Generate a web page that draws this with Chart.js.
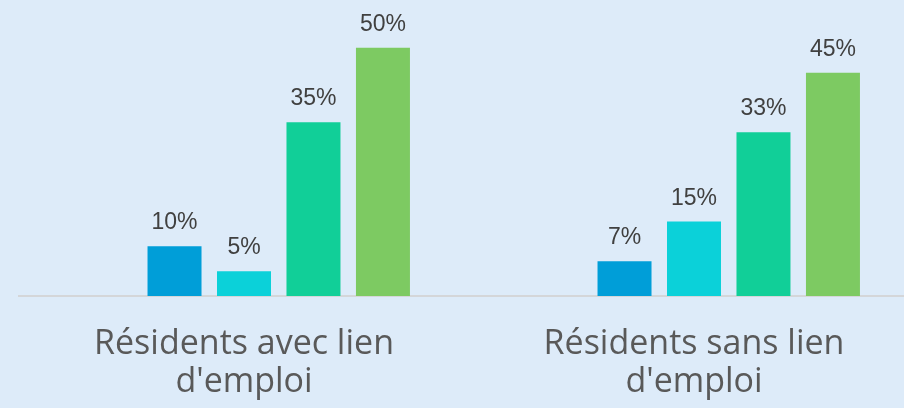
<!DOCTYPE html>
<html>
<head>
<meta charset="utf-8">
<script src="https://cdn.jsdelivr.net/npm/chart.js@4"></script>
<style>
  html, body { margin: 0; padding: 0; background: #ddebf9; }
  #wrap { width: 904px; height: 408px; overflow: hidden; }
</style>
</head>
<body>
<div id="wrap">
  <canvas id="myChart" width="919" height="408"></canvas>
</div>
<script>
const categories = [["Résidents avec lien", "d'emploi"], ["Résidents sans lien", "d'emploi"]];

// first series is empty in the source chart (it keeps its slot)
const seriesEmpty = [null, null];
const seriesA = [10, 7];
const seriesB = [5, 15];
const seriesC = [35, 33];
const seriesD = [50, 45];

const colors = ["rgba(0,0,0,0)", "#009ed8", "#0bd1d9", "#11cf98", "#7dca62"];

// value labels above bars
const valueLabels = {
  id: "valueLabels",
  afterDatasetsDraw(chart) {
    const ctx = chart.ctx;
    ctx.save();
    ctx.font = "23px 'Liberation Sans', Arial, sans-serif";
    ctx.fillStyle = "#404040";
    ctx.textAlign = "center";
    ctx.textBaseline = "alphabetic";
    chart.data.datasets.forEach((ds, i) => {
      const meta = chart.getDatasetMeta(i);
      meta.data.forEach((bar, j) => {
        const v = ds.data[j];
        if (v === null) return;
        ctx.fillText(v + "%", bar.x, bar.y - 17);
      });
    });
    ctx.restore();
  }
};

const ctx = document.getElementById("myChart").getContext("2d");
let chart = new Chart(ctx, {
  type: "bar",
  data: {
    labels: categories,
    datasets: [seriesEmpty, seriesA, seriesB, seriesC, seriesD].map((d, i) => ({
      data: d,
      backgroundColor: colors[i],
      categoryPercentage: 0.772,
      barPercentage: 0.777
    }))
  },
  options: {
    responsive: false,
    animation: false,
    layout: { padding: { left: 19, right: 0, top: 23, bottom: 0 } },
    plugins: { legend: { display: false }, tooltip: { enabled: false } },
    scales: {
      x: {
        grid: { display: false, drawTicks: false },
        border: { display: true, color: "#d4d6d9", width: 2 },
        ticks: {
          color: "#595959",
          font: { family: "'Open Sans', sans-serif", size: 34, lineHeight: 1.12 },
          padding: 29,
          maxRotation: 0
        },
        afterFit(scale) { scale.height = 112; }
      },
      y: {
        display: false,
        min: 0,
        max: 55
      }
    }
  },
  plugins: [valueLabels]
});
</script>
</body>
</html>
